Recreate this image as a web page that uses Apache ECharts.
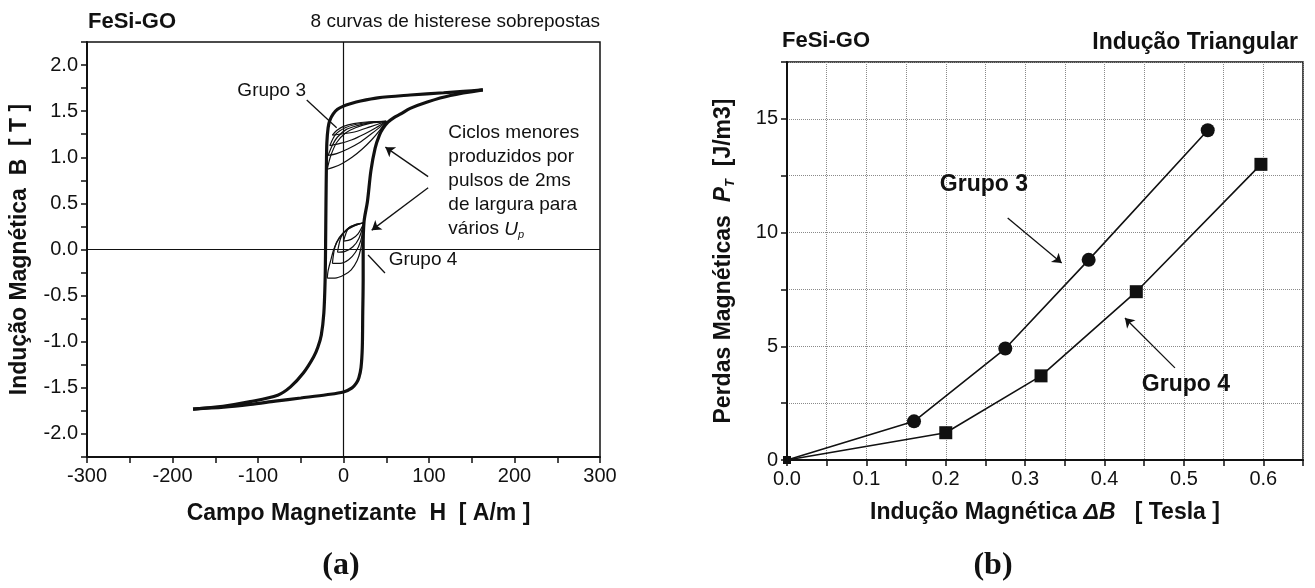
<!DOCTYPE html>
<html>
<head>
<meta charset="utf-8">
<script src="https://cdn.jsdelivr.net/npm/echarts@6/dist/echarts.min.js"></script>
<style>
  html, body { margin: 0; padding: 0; background: #ffffff; }
  #chart { width: 1315px; height: 588px; }
</style>
</head>
<body>
<div id="chart"></div>
<script>
// ---------- (a) hysteresis curves: H [A/m], B [T] ----------
// major loop, descending branch (from +Bmax to -Bmax)
const majorDown = [
  [163, 1.73], [140, 1.715], [117, 1.70], [78, 1.675], [40, 1.645], [20, 1.61], [8, 1.58],
  [0, 1.555], [-7, 1.52], [-12, 1.47], [-16, 1.40], [-18, 1.32], [-19.5, 1.15], [-20, 0.9],
  [-20.5, 0.5], [-21, 0], [-21.5, -0.33], [-23, -0.69], [-26, -0.93], [-30, -1.06],
  [-35, -1.166], [-47, -1.34], [-62, -1.49], [-77, -1.58], [-109, -1.65], [-141, -1.70], [-176, -1.73]
];
// major loop, ascending branch (from -Bmax to +Bmax)
const majorUp = [
  [-176, -1.73], [-140, -1.71], [-109, -1.68], [-80, -1.645], [-50, -1.61], [-20, -1.575],
  [0, -1.545], [10, -1.50], [15, -1.45], [18, -1.39], [20.5, -1.28], [22, -1.06], [22.5, -0.7],
  [23, -0.33], [23, 0], [24, 0.3], [28, 0.52], [32, 0.85], [37, 1.10], [42, 1.24], [46, 1.31],
  [52, 1.38], [59, 1.43], [67, 1.47], [78, 1.53], [98, 1.60], [125, 1.67], [163, 1.73]
];
// minor loops, group 3 (upper and lower halves of each loop)
const group3Upper = [
  [[50, 1.39], [32, 1.37], [14, 1.32], [2, 1.26], [-8, 1.16], [-14, 1.04], [-17, 0.95], [-19, 0.87]],
  [[50, 1.39], [32, 1.375], [15, 1.34], [3, 1.30], [-7, 1.22], [-13, 1.13], [-18, 1.02]],
  [[50, 1.39], [30, 1.38], [14, 1.355], [2, 1.32], [-9, 1.25], [-16, 1.125]],
  [[50, 1.39], [30, 1.385], [12, 1.365], [0, 1.335], [-8, 1.29], [-13, 1.24]]
];
const group3Lower = [
  [[-19, 0.87], [-12, 0.89], [-2, 0.93], [10, 1.00], [22, 1.09], [33, 1.19], [43, 1.30], [50, 1.39]],
  [[-18, 1.02], [-8, 1.04], [5, 1.09], [19, 1.16], [32, 1.25], [43, 1.33], [50, 1.39]],
  [[-16, 1.125], [-4, 1.15], [10, 1.19], [24, 1.25], [38, 1.32], [50, 1.39]],
  [[-13, 1.24], [0, 1.255], [15, 1.28], [31, 1.33], [50, 1.39]]
];
// minor loops, group 4
const group4Upper = [
  [[24, 0.29], [14, 0.26], [4, 0.21], [-5, 0.12], [-11, 0.01], [-15, -0.12], [-18, -0.23], [-19, -0.31]],
  [[24, 0.29], [13, 0.26], [3, 0.21], [-5, 0.13], [-10, 0.03], [-13, -0.15]],
  [[24, 0.29], [13, 0.265], [4, 0.22], [-3, 0.13], [-7, -0.03]],
  [[24, 0.29], [15, 0.275], [6, 0.235], [0, 0.09]]
];
const group4Lower = [
  [[-19, -0.31], [-10, -0.31], [0, -0.28], [9, -0.22], [16, -0.12], [20, 0.0], [22.5, 0.15], [24, 0.29]],
  [[-13, -0.15], [-4, -0.15], [6, -0.11], [14, -0.03], [20, 0.09], [24, 0.29]],
  [[-7, -0.03], [2, -0.02], [11, 0.03], [18, 0.12], [24, 0.29]],
  [[0, 0.09], [9, 0.11], [17, 0.17], [24, 0.29]]
];

// ---------- (b) magnetic losses vs. induction swing ----------
const group3DeltaB = [0, 0.16, 0.275, 0.38, 0.53];
const group3Loss   = [0, 1.7, 4.9, 8.8, 14.5];
const group4DeltaB = [0, 0.2, 0.32, 0.44, 0.597];
const group4Loss   = [0, 1.2, 3.7, 7.4, 13.0];

const SANS = "'Liberation Sans', Arial, Helvetica, sans-serif";
const SERIF = "'Liberation Serif', 'Times New Roman', serif";
const INK = '#111111';
const TICK_FONT = 20;
const TITLE_FONT = 23;

const chart = echarts.init(document.getElementById('chart'), null, { renderer: 'canvas' });

function loopSeries(paths, width) {
  return paths.map(p => ({
    type: 'line', xAxisIndex: 0, yAxisIndex: 0, data: p,
    showSymbol: false, smooth: 0.3, silent: true,
    lineStyle: { color: INK, width: width }
  }));
}

function textSeries(grid, items) {
  return {
    type: 'scatter', xAxisIndex: grid, yAxisIndex: grid, silent: true, z: 5,
    symbolSize: 1, itemStyle: { color: 'rgba(0,0,0,0)', opacity: 1 },
    data: items.map(t => ({ value: t.at, label: Object.assign({ show: true, opacity: 1, formatter: t.text }, t.label) }))
  };
}

function arrowSeries(grid, segs) {
  return {
    type: 'lines', coordinateSystem: 'cartesian2d', xAxisIndex: grid, yAxisIndex: grid,
    silent: true, z: 5, polyline: false,
    data: segs.map(s => ({ coords: s.coords, symbol: s.head ? ['none', 'arrow'] : ['none', 'none'], symbolSize: 9 })),
    lineStyle: { color: INK, width: 1.3, opacity: 1, curveness: 0 }
  };
}

const plainLabel = { position: 'inside', color: INK, fontFamily: SANS, fontSize: 19 };
const boldLabel = { position: 'inside', color: INK, fontFamily: SANS, fontSize: 23, fontWeight: 'bold' };

function axisBase() {
  return {
    axisLine: { onZero: false, lineStyle: { color: INK, width: 2 } },
    axisTick: { inside: false, length: 6, lineStyle: { color: INK, width: 1.5 } }
  };
}

const option = {
  animation: false,
  backgroundColor: '#ffffff',
  grid: [
    { left: 87, top: 42, width: 513, height: 415, show: true, borderColor: INK, borderWidth: 1.5, backgroundColor: 'transparent' },
    { left: 787, top: 62, width: 516, height: 398, show: true, borderColor: INK, borderWidth: 1.5, backgroundColor: 'transparent' }
  ],
  xAxis: [
    Object.assign(axisBase(), {
      type: 'value', gridIndex: 0, min: -300, max: 300, interval: 50,
      axisLabel: { margin: 9, color: INK, fontFamily: SANS, fontSize: TICK_FONT,
        formatter: v => (Math.round(v) % 100 === 0 ? String(v) : '') },
      splitLine: { show: false },
      name: 'Campo Magnetizante  H  [ A/m ]', nameLocation: 'middle', nameGap: 45,
      nameTextStyle: { color: INK, fontFamily: SANS, fontSize: TITLE_FONT, fontWeight: 'bold', padding: [0, 0, 0, 30] }
    }),
    Object.assign(axisBase(), {
      type: 'value', gridIndex: 1, min: 0, max: 0.65, interval: 0.05,
      axisLabel: { margin: 9, color: INK, fontFamily: SANS, fontSize: TICK_FONT,
        formatter: v => (Math.round(v * 20) % 2 === 0 ? v.toFixed(1) : '') },
      splitLine: { show: true, lineStyle: { color: '#8a8a8a', width: 1, type: 'dotted' } },
      name: 'Indução Magnética {i|ΔB}   [ Tesla ]', nameLocation: 'middle', nameGap: 41,
      nameTextStyle: { color: INK, fontFamily: SANS, fontSize: TITLE_FONT, fontWeight: 'bold',
        rich: { i: { fontFamily: SANS, fontSize: TITLE_FONT, fontWeight: 'bold', fontStyle: 'italic', color: INK } } }
    })
  ],
  yAxis: [
    Object.assign(axisBase(), {
      type: 'value', gridIndex: 0, min: -2.25, max: 2.25, interval: 0.25,
      axisLabel: { margin: 9, color: INK, fontFamily: SANS, fontSize: TICK_FONT,
        formatter: v => (Math.round(v * 4) % 2 === 0 ? v.toFixed(1) : '') },
      splitLine: { show: false },
      name: 'Indução Magnética  B  [ T ]', nameLocation: 'middle', nameRotate: 90, nameGap: 56,
      nameTextStyle: { color: INK, fontFamily: SANS, fontSize: TITLE_FONT, fontWeight: 'bold' }
    }),
    Object.assign(axisBase(), {
      type: 'value', gridIndex: 1, min: 0, max: 17.5, interval: 2.5,
      axisLabel: { margin: 9, color: INK, fontFamily: SANS, fontSize: TICK_FONT,
        formatter: v => (Math.round(v / 2.5) % 2 === 0 ? String(v) : '') },
      splitLine: { show: true, lineStyle: { color: '#8a8a8a', width: 1, type: 'dotted' } },
      name: 'Perdas Magnéticas  {i|P}{sub|T}  [J/m3]', nameLocation: 'middle', nameRotate: 90, nameGap: 50,
      nameTextStyle: { color: INK, fontFamily: SANS, fontSize: TITLE_FONT, fontWeight: 'bold',
        rich: {
          i: { fontFamily: SANS, fontSize: TITLE_FONT, fontWeight: 'bold', fontStyle: 'italic', color: INK },
          sub: { fontFamily: SANS, fontSize: 13, fontWeight: 'bold', fontStyle: 'italic', color: INK, padding: [13, 0, 0, 0] }
        } }
    })
  ],
  graphic: [
    { type: 'text', x: 88, y: 22, style: { text: 'FeSi-GO', fill: INK, font: 'bold 22px ' + SANS, verticalAlign: 'middle', align: 'left' } },
    { type: 'text', x: 600, y: 22, style: { text: '8 curvas de histerese sobrepostas', fill: INK, font: '19px ' + SANS, verticalAlign: 'middle', align: 'right' } },
    { type: 'text', x: 341, y: 566, style: { text: '(a)', fill: INK, font: 'bold 32px ' + SERIF, verticalAlign: 'middle', align: 'center' } },
    { type: 'text', x: 782, y: 41, style: { text: 'FeSi-GO', fill: INK, font: 'bold 22px ' + SANS, verticalAlign: 'middle', align: 'left' } },
    { type: 'text', x: 1298, y: 43, style: { text: 'Indução Triangular', fill: INK, font: 'bold 23px ' + SANS, verticalAlign: 'middle', align: 'right' } },
    { type: 'text', x: 993, y: 566, style: { text: '(b)', fill: INK, font: 'bold 32px ' + SERIF, verticalAlign: 'middle', align: 'center' } }
  ],
  series: [
    {
      type: 'line', xAxisIndex: 0, yAxisIndex: 0, data: majorDown, showSymbol: false, smooth: 0.3, silent: true,
      lineStyle: { color: INK, width: 3.2 },
      markLine: {
        silent: true, symbol: 'none', label: { show: false },
        lineStyle: { color: INK, width: 1.2, type: 'solid' },
        data: [{ xAxis: 0 }, { yAxis: 0 }]
      }
    },
    {
      type: 'line', xAxisIndex: 0, yAxisIndex: 0, data: majorUp, showSymbol: false, smooth: 0.3, silent: true,
      lineStyle: { color: INK, width: 3.2 }
    },
    ...loopSeries(group3Upper, 1.2),
    ...loopSeries(group3Lower, 1.2),
    ...loopSeries(group4Upper, 1.2),
    ...loopSeries(group4Lower, 1.2),
    arrowSeries(0, [
      { coords: [[-43, 1.62], [-8, 1.32]], head: false },
      { coords: [[99, 0.79], [49, 1.11]], head: true },
      { coords: [[99, 0.67], [33, 0.21]], head: true },
      { coords: [[48.5, -0.255], [28.7, -0.06]], head: false }
    ]),
    textSeries(0, [
      { at: [-84, 1.72], text: 'Grupo 3', label: plainLabel },
      { at: [93, -0.11], text: 'Grupo 4', label: plainLabel },
      { at: [122, 0.74],
        text: 'Ciclos menores\nproduzidos por\npulsos de 2ms\nde largura para\nvários {i|U}{sub|p}',
        label: Object.assign({}, plainLabel, {
          position: 'right', distance: 0, align: 'left', lineHeight: 24,
          rich: {
            i: { fontFamily: SANS, fontSize: 19, fontStyle: 'italic', color: INK, lineHeight: 24 },
            sub: { fontFamily: SANS, fontSize: 11, fontStyle: 'italic', color: INK, lineHeight: 24, padding: [12, 0, 0, 0] }
          }
        }) }
    ]),
    {
      type: 'line', xAxisIndex: 1, yAxisIndex: 1, silent: true, z: 3,
      data: group3DeltaB.map((x, i) => ({ value: [x, group3Loss[i]], symbolSize: i === 0 ? 0 : 14 })),
      symbol: 'circle', showAllSymbol: true,
      itemStyle: { color: INK }, lineStyle: { color: INK, width: 1.6 }
    },
    {
      type: 'line', xAxisIndex: 1, yAxisIndex: 1, silent: true, z: 3,
      data: group4DeltaB.map((x, i) => ({ value: [x, group4Loss[i]], symbolSize: i === 0 ? 8 : 13 })),
      symbol: 'rect', showAllSymbol: true,
      itemStyle: { color: INK }, lineStyle: { color: INK, width: 1.6 }
    },
    arrowSeries(1, [
      { coords: [[0.278, 10.64], [0.346, 8.66]], head: true },
      { coords: [[0.4887, 4.05], [0.4257, 6.24]], head: true }
    ]),
    textSeries(1, [
      { at: [0.248, 12.09], text: 'Grupo 3', label: boldLabel },
      { at: [0.5025, 3.30], text: 'Grupo 4', label: boldLabel }
    ])
  ]
};

chart.setOption(option);
</script>
</body>
</html>
